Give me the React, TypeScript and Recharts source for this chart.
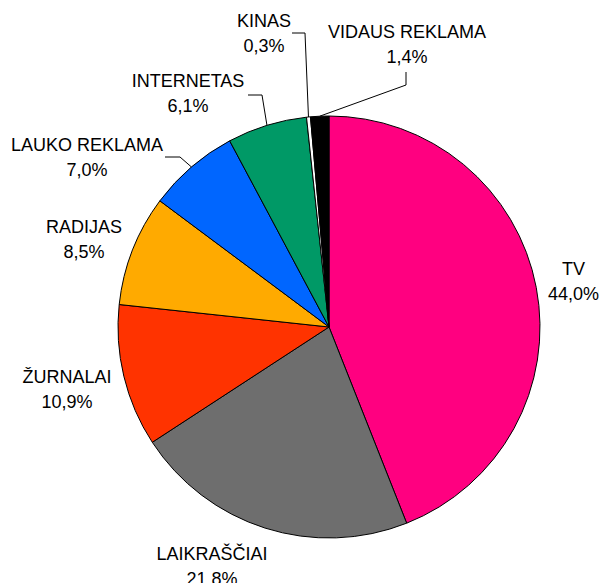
import React from 'react';
import { PieChart, Pie, Cell } from 'recharts';

const categories = ['TV', 'LAIKRAŠČIAI', 'ŽURNALAI', 'RADIJAS', 'LAUKO REKLAMA', 'INTERNETAS', 'KINAS', 'VIDAUS REKLAMA'];
const shares = [44.0, 21.8, 10.9, 8.5, 7.0, 6.1, 0.3, 1.4];
const shareLabels = ['44,0%', '21.8%', '10,9%', '8,5%', '7,0%', '6,1%', '0,3%', '1,4%'];
const colors = ['#FF0080', '#6E6E6E', '#FF3300', '#FFAA00', '#0066FF', '#009966', '#FFFFFF', '#000000'];

const data = categories.map((name, i) => ({ name, value: shares[i], label: shareLabels[i] }));

// label placement relative to pie centre; leader points relative to label centre
type Layout = { dx: number; dy: number; leader?: [number, number][] };
const LABEL_LAYOUT: Layout[] = [
  { dx: 244.5, dy: -46 },
  { dx: -117, dy: 239 },
  { dx: -262, dy: 62 },
  { dx: -245, dy: -88 },
  { dx: -242, dy: -170, leader: [[93, 0], [78, 0]] },
  { dx: -141, dy: -234, leader: [[74, 2], [60, 2]] },
  { dx: -65, dy: -294, leader: [[41, 0], [28, 0]] },
  { dx: 78, dy: -283, leader: [[-1, 41], [-1, 28]] },
];

const CX = 329;
const CY = 327;
const R = 211;

const renderLabel = (props: any) => {
  const cx = props.cx ?? CX;
  const cy = props.cy ?? CY;
  const { midAngle, outerRadius, index } = props;
  const L = LABEL_LAYOUT[index];
  const lx = cx + L.dx;
  const ly = cy + L.dy;
  const rad = Math.PI / 180;
  let line = null;
  if (L.leader) {
    const ex = cx + outerRadius * Math.cos(-midAngle * rad);
    const ey = cy + outerRadius * Math.sin(-midAngle * rad);
    const pts = [[ex, ey], ...L.leader.map(([a, b]) => [lx + a, ly + b])];
    line = (
      <polyline
        points={pts.map((p) => p.join(',')).join(' ')}
        fill="none"
        stroke="#000"
        strokeWidth={1}
      />
    );
  }
  return (
    <g key={`lbl-${index}`}>
      {line}
      <text
        x={lx}
        y={ly - 6}
        textAnchor="middle"
        fontFamily="'Liberation Sans', Arial, sans-serif"
        fontSize={18}
        fill="#000"
      >
        {categories[index]}
      </text>
      <text
        x={lx}
        y={ly + 19}
        textAnchor="middle"
        fontFamily="'Liberation Sans', Arial, sans-serif"
        fontSize={18}
        fill="#000"
      >
        {shareLabels[index]}
      </text>
    </g>
  );
};

export default function App() {
  return (
    <div style={{ position: 'absolute', left: 0, top: 0, width: 601, height: 583, background: '#fff' }}>
      <PieChart width={601} height={583} margin={{ top: 0, right: 0, bottom: 0, left: 0 }}>
        <Pie
          data={data}
          dataKey="value"
          nameKey="name"
          cx={CX}
          cy={CY}
          outerRadius={R}
          startAngle={90}
          endAngle={-270}
          stroke="#000"
          strokeWidth={1}
          label={renderLabel}
          labelLine={false}
          isAnimationActive={false}
        >
          {data.map((d, i) => (
            <Cell key={d.name} fill={colors[i]} stroke="#000" strokeWidth={1} />
          ))}
        </Pie>
      </PieChart>
    </div>
  );
}
